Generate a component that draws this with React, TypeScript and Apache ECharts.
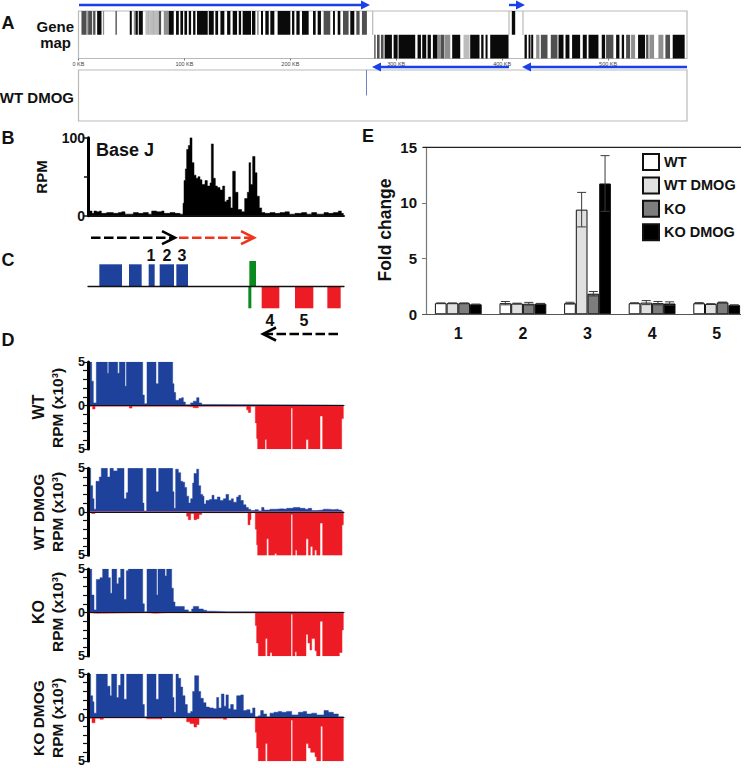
import React, { useEffect, useRef } from "react";
import * as echarts from "echarts";

const FONT = "'Liberation Sans', Arial, sans-serif";
const BLUE = "#1e419b";
const RED = "#ed1c24";
const GREEN = "#0a8a1e";
const ARROW = "#1a41e8";
const PALETTE = ["#0a0a0a", "#505050", "#8f8f8f", "#bdbdbd", BLUE, RED, GREEN, "#3a55b0"];

// Panel A: gene intervals in KB: [start, end, shade]
const geneTop: number[][] = [
  [2.8,7.5,1],[7.5,8.8,2],[9.1,12.9,1],[13.8,16,1],[17.6,21.7,0],[23,24.2,2],[34.9,36.2,1],[48.4,50.3,0],
  [52.2,53.8,2],[53.8,56,0],[56.9,60.7,0],[63.2,66,3],[66,67,2],[67,70,3],[70,71,2],[71,75.8,3],[75.8,78,1],[80.5,85.2,2],
  [85.2,89.9,0],[92.1,94.7,0],[96.2,98.7,0],[100,102.5,0],[104.1,106.3,0],[108.2,110.4,0],[111.9,122,0],[123,127.7,0],
  [129.2,131.8,0],[134,137.7,0],[140.3,143.4,0],[145.6,149.7,0],[151.3,153.5,0],[155,162.9,0],[163.8,167,0],[168.6,170.1,2],
  [172.3,174.2,0],[176.4,179.6,0],[181.1,184.9,0],[188,200,0],[201.6,203.8,0],[205.7,208.8,0],[211,217.3,0],[221.4,223.9,0],
  [225.8,228.9,0],[231.4,237.7,1],[240.3,242.1,0],[244.7,247.2,0],[249.7,255,1],[256.6,260.4,0],[262.3,265.4,1],[267.6,272.3,1],
  [409.1,412.3,0],
];
const geneBottom: number[][] = [
  [279.2,280.5,1],[281.8,284.3,1],[285.5,288,1],[289,295.9,0],[297.5,301.3,0],[302.2,317.9,0],[320.1,323.3,0],[324.5,328.3,0],
  [329.6,332.7,0],[334.6,339,0],[339,342.1,2],[342.1,345.3,1],[345.6,351,2],[352.8,360.4,0],[363.5,369.2,3],[369.8,378.6,0],
  [380.2,382.4,0],[384.3,386.2,0],[388.7,406,0],[421.1,423.3,0],[424.9,426.7,0],[427.4,429.3,0],[432.1,435.2,2],[436.5,442.8,1],
  [445.9,452.2,1],[453.2,457.9,0],[459.8,463.5,0],[466,473.6,0],[476.1,479.9,0],[481.5,490.9,0],[494,497.2,0],[498.1,505,1],
  [507.6,510.7,0],[512.9,515.1,0],[517,520.8,1],[521.7,525.5,2],[528.3,534.9,0],[535.9,538.1,1],[539,543.4,2],[547.5,552.2,2],
  [554.1,558.5,1],[561,572.3,0],
];
const kbTicks = [0, 100, 200, 300, 400, 500];
const dmogSignal = [[271.6, 272.3, 0.5, 1, 7]];

// Panel B: base J, [position, RPM] step points
const baseJ: number[][] = [
  [266,6],[276,3],[282,6],[290,5],[298,6],[304,3],[320,4],[340,3],[355,4],[365,5],[375,2],[400,4],[415,3],[430,4],[445,2],[455,6],
  [470,5],[485,6],[492,3],[510,4],[525,3],[540,2],[549,16],[552,45],[556,60],[560,85],[565,90],[570,100],[576,68],[582,52],[588,48],
  [594,50],[600,46],[606,40],[615,45],[622,38],[630,42],[634,92],[640,48],[646,38],[652,36],[660,33],[668,38],[674,18],[680,20],
  [686,24],[692,10],[698,57],[706,30],[714,8],[725,5],[734,22],[742,30],[747,68],[752,40],[758,76],[765,55],[771,25],[778,10],
  [785,4],[795,3],[810,4],[825,3],[840,4],[855,5],[868,2],[885,3],[905,4],[920,2],[935,4],[950,2],[972,4],[985,3],[1000,4],[1015,6],[1024,3],[1030,0],
];

// Panel C: features: [start, end, low, high, colour]
const exons: number[][] = [
  [298,366,0,1,4],[387,425,0,1,4],[446,464,0,1,4],[479,522,0,1,4],[529,564,0,1,4],
  [785,838,-1,0,5],[885,940,-1,0,5],[982,1022,-1,0,5],[748,768,0,1.15,6],[745,754,-1,0,6],
];

// Panel D: [position, RPM x10^3] step points
const wtBlue: number[][] = [
  [264,5],[275,2.8],[280,0.3],[289,5],[322,3.7],[326,5],[353,3.7],[358,5],[375,2.2],[379,5],[428,1.2],[433,0.2],[441,5],[468,2.5],
  [475,5],[518,2.5],[522,1.5],[527,0.6],[537,0.8],[545,0.9],[550,0.4],[556,0.1],[572,0.3],[580,0.5],[590,0.9],[597,0.3],[605,0.12],[640,0.05],[1030,0],
];
const wtRed: number[][] = [
  [264,0.1],[278,0.4],[285,0.08],[388,0.3],[396,0.1],[560,0.15],[580,0.25],[595,0.1],[740,0.5],[745,0.8],[752,0.1],[766,2],[770,3.8],
  [773,5],[795,3.9],[800,5],[873,0.3],[878,5],[918,3.9],[925,5],[960,1.2],[968,5],[1025,1.5],[1030,0],
];
const wtDmogBlue: number[][] = [
  [264,5],[272,3],[278,1.5],[282,0.3],[288,3.5],[298,4],[304,5],[322,4],[330,5],[340,4.7],[352,5],[372,1.5],[379,2.2],[384,5],[428,1],
  [432,0.1],[440,5],[468,2.3],[476,5],[518,2.3],[522,0.4],[527,4.9],[535,4.5],[542,3.5],[548,3.4],[554,2.8],[560,1.8],[566,1],[572,1.5],
  [578,3.3],[582,4.4],[590,4.9],[596,3],[602,2],[608,1.8],[612,0.9],[618,1.3],[628,1.4],[636,1.9],[642,1.4],[652,1.7],[660,1.3],[670,1.5],
  [678,2],[686,1.3],[694,1.5],[700,1.1],[710,1.7],[716,1.9],[722,1.3],[730,0.8],[738,0.5],[745,0.3],[752,0.15],[765,0.25],[775,0.1],[785,0.5],
  [792,0.2],[810,0.3],[830,0.35],[845,0.3],[860,0.4],[880,0.5],[900,0.4],[915,0.3],[925,0.4],[935,0.15],[950,0.2],[970,0.3],[985,0.25],[1000,0.3],[1015,0.2],[1025,0.05],[1030,0],
];
const wtDmogRed: number[][] = [
  [264,0.05],[275,0.2],[285,0.05],[560,0.5],[565,0.9],[572,0.2],[582,0.9],[590,0.8],[597,0.3],[605,0.1],[744,1.5],[750,0.9],[753,0.1],[766,2],
  [770,3.8],[773,5],[800,3.1],[806,5],[824,4.8],[830,5],[873,0.3],[878,5],[886,4.4],[891,5],[918,3.1],[925,5],[931,4],[938,5],[944,4.4],[950,5],[960,1.3],[968,5],[1026,1.5],[1030,0],
];
const koBlue: number[][] = [
  [264,5],[275,2],[282,0.3],[289,3.8],[300,4],[308,5],[325,4],[331,2.2],[336,5],[350,3.3],[356,4],[362,5],[372,1.5],[379,4.8],[385,5],[428,1],
  [433,0.1],[441,5],[470,2],[474,5],[495,4.2],[500,5],[515,2.8],[520,1.2],[525,0.7],[553,0.3],[565,0.1],[575,0.4],[580,0.7],[596,0.4],[610,0.25],
  [620,0.15],[640,0.1],[680,0.05],[1030,0],
];
const koRed: number[][] = [
  [264,0.05],[275,0.1],[290,0.03],[440,0.1],[465,0.03],[505,0.05],[740,0.05],[766,1.5],[770,3.5],[775,5],[796,3],[802,5],[810,4.6],[816,5],
  [873,0.2],[878,5],[885,4.5],[890,5],[918,2.5],[924,3.5],[930,4.3],[935,3],[945,4.4],[950,5],[960,1],[968,5],[1018,4.6],[1026,2],[1030,0],
];
const koDmogBlue: number[][] = [
  [264,5],[272,2.5],[278,1.8],[282,0.5],[289,5],[322,3.6],[330,2.5],[335,5],[350,2.3],[356,3.7],[362,5],[372,2.1],[380,5],[428,1.5],[433,0.1],
  [441,5],[468,2.1],[476,5],[518,2.3],[522,0.6],[528,5],[535,4.5],[542,3.5],[548,2.5],[555,1.5],[562,0.5],[572,0.7],[578,3],[584,4.8],[596,3],
  [602,2.2],[610,1.7],[618,1.2],[628,1.1],[640,1],[650,2.3],[656,1.1],[664,2.7],[672,1.3],[678,2.6],[685,1],[692,1.5],[700,0.9],[710,2.5],[722,2.6],
  [730,0.8],[740,0.9],[750,0.5],[758,1.1],[765,0.1],[775,0.2],[782,0.8],[790,0.4],[800,0.1],[810,0.5],[822,0.6],[835,0.7],[845,0.6],[860,0.7],[875,0.3],
  [895,0.6],[910,0.7],[920,0.4],[935,0.5],[950,0.3],[972,0.8],[985,0.6],[1000,0.4],[1015,0.1],[1030,0],
];
const koDmogRed: number[][] = [
  [264,0.1],[276,0.6],[285,0.1],[300,0.2],[310,0.05],[440,0.15],[478,0.2],[485,0.05],[560,0.5],[570,0.7],[582,1.1],[590,0.8],[597,0.1],[660,0.1],
  [670,0.2],[680,0.05],[766,1.7],[770,3.5],[775,5],[796,3],[802,5],[873,0.3],[878,5],[918,3],[925,3.5],[932,4],[945,4.5],[950,5],[962,1],[968,5],[1030,0],
];

// Panel E
const categoriesE = ["1", "2", "3", "4", "5"];
const seriesNamesE = ["WT", "WT DMOG", "KO", "KO DMOG"];
const wtValues = [1.0, 1.0, 1.0, 1.0, 1.0];
const wtDmogValues = [1.0, 0.97, 9.4, 1.05, 0.93];
const koValues = [1.0, 0.95, 1.85, 1.0, 1.07];
const koDmogValues = [0.9, 0.95, 11.75, 0.97, 0.83];
const wtErrors = [0.02, 0.15, 0.08, 0.04, 0.05];
const wtDmogErrors = [0.02, 0.03, 1.55, 0.18, 0.02];
const koErrors = [0.02, 0.12, 0.2, 0.15, 0.03];
const koDmogErrors = [0.02, 0.03, 2.5, 0.15, 0.02];

const BAR_W = 11.7;

function rectItem(_: any, api: any) {
  const a = api.coord([api.value(0), api.value(3)]);
  const b = api.coord([api.value(1), api.value(2)]);
  return {
    type: "rect",
    shape: { x: a[0], y: a[1], width: b[0] - a[0], height: b[1] - a[1] },
    style: { fill: PALETTE[api.value(4)] },
  };
}

function errorItem(_: any, api: any) {
  const off = (api.value(3) - 1.5) * BAR_W;
  const c = api.coord([api.value(0), api.value(1)]);
  const top = api.coord([api.value(0), api.value(1) + api.value(2)]);
  const low = api.coord([api.value(0), api.value(1) - api.value(2)]);
  const x = c[0] + off;
  const style = { stroke: "#3a3a3a", lineWidth: 1 };
  return {
    type: "group",
    children: [
      { type: "line", shape: { x1: x, y1: top[1], x2: x, y2: low[1] }, style },
      { type: "line", shape: { x1: x - 4.5, y1: top[1], x2: x + 4.5, y2: top[1] }, style },
      { type: "line", shape: { x1: x - 4.5, y1: low[1], x2: x + 4.5, y2: low[1] }, style },
    ],
  };
}

const customSeries = (axisIndex: number, data: number[][]) => ({
  type: "custom",
  xAxisIndex: axisIndex,
  yAxisIndex: axisIndex,
  renderItem: rectItem,
  encode: { x: [0, 1], y: [2, 3] },
  data,
  silent: true,
  z: 4,
});

const stepArea = (axisIndex: number, data: number[][], color: string) => ({
  type: "line",
  xAxisIndex: axisIndex,
  yAxisIndex: axisIndex,
  step: "end",
  data,
  symbol: "none",
  showSymbol: false,
  silent: true,
  itemStyle: { color },
  lineStyle: { color, width: 0.5 },
  areaStyle: { color, opacity: 1 },
  z: 3,
});

const text = (t: string, x: number, y: number, size: number, opts: any = {}) => ({
  type: "text",
  x,
  y,
  rotation: opts.rotate ? Math.PI / 2 : 0,
  silent: true,
  z: 20,
  style: {
    text: t,
    x: 0,
    y: 0,
    fill: "#111",
    fontFamily: FONT,
    fontWeight: "bold",
    fontSize: size,
    align: opts.align ?? "center",
    verticalAlign: "middle",
  },
});

const line = (x1: number, y1: number, x2: number, y2: number, stroke: string, lineWidth: number, lineDash?: number[]) => ({
  type: "line",
  silent: true,
  z: 20,
  shape: { x1, y1, x2, y2 },
  style: { stroke, lineWidth, lineDash },
});

const blueArrow = (from: number, to: number, y: number) => {
  const dir = to > from ? 1 : -1;
  return [
    line(from, y, to - dir * 6, y, ARROW, 2.4),
    {
      type: "polygon",
      silent: true,
      z: 20,
      shape: { points: [[to, y], [to - dir * 9, y - 4.5], [to - dir * 9, y + 4.5]] },
      style: { fill: ARROW },
    },
  ];
};

const dashedArrow = (from: number, to: number, y: number, color: string) => {
  const dir = to > from ? 1 : -1;
  return [
    line(from, y, to - dir * 2, y, color, 2.6, [9.5, 3.5]),
    {
      type: "polyline",
      silent: true,
      z: 20,
      shape: { points: [[to - dir * 13, y - 6.5], [to, y], [to - dir * 13, y + 6.5]] },
      style: { stroke: color, lineWidth: 2.6, fill: "none" },
    },
  ];
};

const trackX = (grid: number, width: number) => ({
  type: "value",
  gridIndex: grid,
  min: 264,
  max: 1032,
  z: 5,
  splitLine: { show: false },
  axisTick: { show: false },
  axisLabel: { show: false },
  axisLine: { show: true, onZero: true, lineStyle: { color: "#111", width } },
});

const signalY = (grid: number) => ({
  type: "value",
  gridIndex: grid,
  min: -5,
  max: 5,
  interval: 1,
  z: 6,
  splitLine: { show: false },
  axisLine: { show: true, lineStyle: { color: "#000", width: 3 } },
  axisTick: { show: true, length: 5, lineStyle: { color: "#111", width: 1.2 } },
  axisLabel: {
    customValues: [-5, 0, 5],
    formatter: (v: number) => String(Math.abs(v)),
    color: "#111",
    fontFamily: FONT,
    fontWeight: "bold",
    fontSize: 12.5,
    margin: 3,
  },
});

const negate = (a: number[][]) => a.map(([x, v]) => [x, -v]);

const kbAxis = (grid: number, labels: boolean) => ({
  type: "value",
  gridIndex: grid,
  min: 0,
  max: 574.5,
  splitLine: { show: false },
  axisLine: { show: false },
  axisTick: labels
    ? { show: true, length: 2, customValues: kbTicks, lineStyle: { color: "#777" } }
    : { show: false },
  axisLabel: labels
    ? {
        show: true,
        customValues: kbTicks,
        formatter: (v: number) => `${v} KB`,
        fontSize: 5.5,
        color: "#444",
        fontFamily: FONT,
        margin: 2,
      }
    : { show: false },
});

const hiddenY = (grid: number, min: number, max: number) => ({
  type: "value",
  gridIndex: grid,
  min,
  max,
  show: false,
  splitLine: { show: false },
});

function buildOption() {
  const geneData = [
    ...geneTop.map(([s, e, c]) => [s, e, 1, 2, c]),
    ...geneBottom.map(([s, e, c]) => [s, e, 0, 1, c]),
  ];
  const boxGrid = { show: true, borderColor: "#b9b9b9", borderWidth: 1.2, backgroundColor: "transparent" };
  const grid = [
    { left: 78.5, width: 608.5, top: 11, height: 47.5, ...boxGrid },
    { left: 78.5, width: 608.5, top: 70, height: 51, ...boxGrid },
    { left: 88, width: 256, top: 137.7, height: 78 },
    { left: 88, width: 256, top: 261, height: 47.3 },
    { left: 88, width: 256, top: 362, height: 87 },
    { left: 88, width: 256, top: 468.3, height: 87 },
    { left: 88, width: 256, top: 569, height: 87 },
    { left: 88, width: 256, top: 674, height: 87 },
    { left: 426, width: 323, top: 147.3, height: 167 },
  ];
  const barSeries = [wtValues, wtDmogValues, koValues, koDmogValues].map((data, i) => ({
    type: "bar",
    name: seriesNamesE[i],
    xAxisIndex: 8,
    yAxisIndex: 8,
    data,
    barWidth: BAR_W,
    barGap: "0%",
    silent: true,
    itemStyle: { color: ["#ffffff", "#e0e0e0", "#7d7d7d", "#000000"][i], borderColor: "#111", borderWidth: 1 },
    z: 3,
  }));
  const errorData: number[][] = [];
  [wtErrors, wtDmogErrors, koErrors, koDmogErrors].forEach((errs, s) => {
    const vals = [wtValues, wtDmogValues, koValues, koDmogValues][s];
    errs.forEach((e, c) => errorData.push([c, vals[c], e, s]));
  });

  return {
    animation: false,
    backgroundColor: "#fff",
    grid,
    xAxis: [
      kbAxis(0, true),
      kbAxis(1, false),
      trackX(2, 2),
      trackX(3, 1.3),
      trackX(4, 1),
      trackX(5, 1),
      trackX(6, 1),
      trackX(7, 1),
      {
        type: "category",
        gridIndex: 8,
        data: categoriesE,
        axisLine: { show: false },
        axisTick: { show: false },
        axisLabel: { color: "#111", fontFamily: FONT, fontWeight: "bold", fontSize: 16, margin: 11 },
      },
    ],
    yAxis: [
      hiddenY(0, 0, 2),
      hiddenY(1, 0, 1),
      {
        type: "value",
        gridIndex: 2,
        min: 0,
        max: 100,
        interval: 50,
        z: 6,
        splitLine: { show: false },
        axisLine: { show: true, lineStyle: { color: "#000", width: 3 } },
        axisTick: { show: true, length: 4, lineStyle: { color: "#111", width: 1.5 } },
        axisLabel: {
          customValues: [0, 100],
          color: "#111",
          fontFamily: FONT,
          fontWeight: "bold",
          fontSize: 14,
          margin: 3,
        },
      },
      hiddenY(3, -1, 1.15),
      signalY(4),
      signalY(5),
      signalY(6),
      signalY(7),
      {
        type: "value",
        gridIndex: 8,
        min: 0,
        max: 15,
        interval: 5,
        splitLine: { show: false },
        axisLine: { show: true, lineStyle: { color: "#777", width: 1.2 } },
        axisTick: { show: true, length: 4, lineStyle: { color: "#777" } },
        axisLabel: { color: "#111", fontFamily: FONT, fontWeight: "bold", fontSize: 15, margin: 9 },
      },
    ],
    legend: {
      data: seriesNamesE,
      orient: "vertical",
      left: 642,
      top: 153,
      itemWidth: 16,
      itemHeight: 16,
      itemGap: 5.4,
      icon: "rect",
      selectedMode: false,
      textStyle: { color: "#111", fontFamily: FONT, fontWeight: "bold", fontSize: 14.5, padding: [0, 0, 0, 0] },
      padding: 0,
    },
    series: [
      customSeries(0, geneData),
      customSeries(1, dmogSignal),
      stepArea(2, baseJ, "#000"),
      customSeries(3, exons),
      stepArea(4, wtBlue, BLUE),
      stepArea(4, negate(wtRed), RED),
      stepArea(5, wtDmogBlue, BLUE),
      stepArea(5, negate(wtDmogRed), RED),
      stepArea(6, koBlue, BLUE),
      stepArea(6, negate(koRed), RED),
      stepArea(7, koDmogBlue, BLUE),
      stepArea(7, negate(koDmogRed), RED),
      ...barSeries,
      {
        type: "custom",
        xAxisIndex: 8,
        yAxisIndex: 8,
        renderItem: errorItem,
        encode: { x: 0, y: 1 },
        data: errorData,
        silent: true,
        z: 6,
      },
    ],
    graphic: {
      elements: [
        text("A", 8, 23, 18),
        text("Gene", 74, 26, 15, { align: "right" }),
        text("map", 71, 42, 15, { align: "right" }),
        text("WT DMOG", 74, 97, 15, { align: "right" }),
        ...blueArrow(79, 370, 5),
        ...blueArrow(509, 525, 5),
        ...blueArrow(509, 372, 67),
        ...blueArrow(687, 522, 67),
        line(372.7, 11, 372.7, 35, "#b9b9b9", 1.2),
        line(509, 11, 509, 35, "#b9b9b9", 1.2),
        line(523, 11, 523, 35, "#b9b9b9", 1.2),

        text("B", 8, 138, 18),
        text("RPM", 41, 177, 15, { rotate: true }),
        text("Base J", 96, 150, 18, { align: "left" }),

        text("C", 8, 260, 18),
        ...dashedArrow(91, 175, 237.7, "#000"),
        ...dashedArrow(179, 254, 237.7, "#f0341c"),
        ...dashedArrow(338, 263, 334, "#000"),
        text("1", 151, 255, 16),
        text("2", 167, 255, 16),
        text("3", 182, 255, 16),
        text("4", 270, 320.7, 16),
        text("5", 304, 320.7, 16),

        text("D", 8, 340, 18),
        text("WT", 38, 407, 16, { rotate: true }),
        text("RPM (x10³)", 57, 408, 15.5, { rotate: true }),
        text("WT DMOG", 38, 512, 15.5, { rotate: true }),
        text("RPM (x10³)", 57, 512, 15.5, { rotate: true }),
        text("KO", 38, 612, 16, { rotate: true }),
        text("RPM (x10³)", 57, 612, 15.5, { rotate: true }),
        text("KO DMOG", 38, 718, 15.5, { rotate: true }),
        text("RPM (x10³)", 57, 718, 15.5, { rotate: true }),

        text("E", 368, 136, 18),
        text("Fold change", 385, 230, 17.5, { rotate: true }),
        line(423, 147.3, 741, 147.3, "#222", 1.2),
        line(422, 314.5, 741, 314.5, "#555", 1.2),
      ],
    },
  };
}

export default function App() {
  const ref = useRef<HTMLDivElement>(null);
  useEffect(() => {
    if (!ref.current) return;
    const chart = echarts.init(ref.current, undefined, { renderer: "svg" });
    chart.setOption(buildOption() as any);
    return () => chart.dispose();
  }, []);
  return <div ref={ref} style={{ position: "fixed", left: 0, top: 0, width: 750, height: 768, background: "#fff" }} />;
}
